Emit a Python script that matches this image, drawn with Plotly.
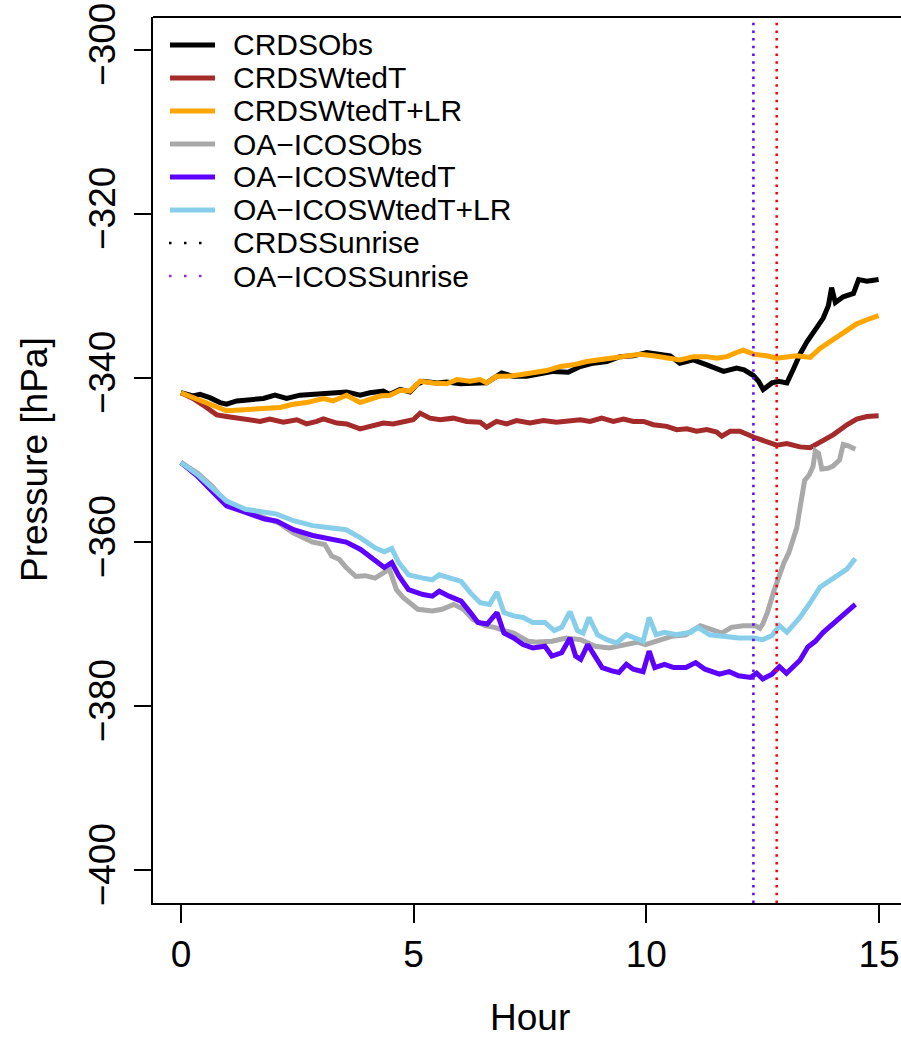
import plotly.graph_objects as go

# ---- series: (hour, pressure hPa) ----
crds_obs = [
    (0, -341.8), (0.26, -342.2), (0.41, -342.0), (0.62, -342.4), (0.84, -343.0), (0.98, -343.2),
    (1.2, -342.8), (1.48, -342.7), (1.77, -342.5), (2.02, -342.1), (2.27, -342.5), (2.56, -342.1),
    (2.84, -342.0), (3.06, -341.8), (3.31, -341.7), (3.56, -341.7), (3.85, -342.1), (4.06, -341.8),
    (4.35, -341.6), (4.49, -342.0), (4.71, -341.4), (4.92, -341.7), (5.07, -340.8), (5.21, -340.4),
    (5.5, -340.6), (5.71, -340.5), (6.0, -340.7), (6.28, -340.6), (6.57, -340.6), (6.89, -339.4),
    (7.14, -339.8), (7.43, -339.8), (7.72, -339.5), (8.0, -339.2), (8.32, -339.3), (8.58, -338.6),
    (8.86, -338.2), (9.15, -338.0), (9.43, -337.4), (9.72, -337.3), (10.01, -336.9), (10.29, -337.2),
    (10.51, -337.3), (10.72, -338.2), (11.01, -337.8), (11.3, -338.4), (11.66, -339.2), (11.94, -338.8),
    (12.1, -339.0), (12.3, -339.7), (12.41, -340.4), (12.51, -341.4), (12.7, -340.6), (12.84, -340.4),
    (13.02, -340.6), (13.16, -338.9), (13.3, -337.1), (13.45, -335.6), (13.63, -334.1), (13.8, -332.7),
    (13.91, -331.2), (13.98, -329.0), (14.06, -330.8), (14.23, -330.1), (14.45, -329.7), (14.56, -328.0),
    (14.74, -328.2), (14.99, -328.0),
]

crds_wted_t = [
    (0, -341.8), (0.26, -342.5), (0.55, -343.6), (0.77, -344.5), (0.98, -344.7), (1.2, -344.9),
    (1.41, -345.1), (1.70, -345.3), (1.91, -345.0), (2.2, -345.4), (2.49, -345.1), (2.70, -345.6),
    (2.92, -345.3), (3.06, -345.0), (3.35, -345.5), (3.56, -345.6), (3.85, -346.2), (4.06, -345.9),
    (4.35, -345.5), (4.56, -345.6), (4.78, -345.3), (4.99, -345.1), (5.14, -344.3), (5.35, -344.9),
    (5.57, -345.1), (5.85, -344.9), (6.14, -345.3), (6.43, -345.4), (6.57, -346.0), (6.78, -345.3),
    (7.0, -345.6), (7.21, -345.2), (7.5, -345.5), (7.79, -345.2), (8.07, -345.4), (8.36, -345.3),
    (8.58, -345.1), (8.79, -345.3), (9.04, -344.9), (9.29, -345.3), (9.51, -345.0), (9.72, -345.3),
    (9.94, -345.3), (10.15, -345.7), (10.44, -345.9), (10.65, -346.3), (10.87, -346.2), (11.08, -346.5),
    (11.3, -346.3), (11.51, -346.6), (11.62, -347.1), (11.8, -346.5), (12.01, -346.5), (12.3, -347.2),
    (12.59, -347.8), (12.8, -348.2), (13.02, -348.0), (13.3, -348.4), (13.52, -348.5), (13.73, -347.8),
    (14.02, -346.9), (14.31, -345.7), (14.52, -345.0), (14.74, -344.7), (14.99, -344.6),
]

crds_wted_t_lr = [
    (0, -341.8), (0.26, -342.4), (0.55, -343.0), (0.77, -343.6), (0.98, -344.0), (1.27, -343.9),
    (1.55, -343.8), (1.84, -343.6), (2.13, -343.6), (2.41, -343.2), (2.70, -343.0), (3.06, -342.5),
    (3.27, -342.8), (3.56, -342.1), (3.85, -343.0), (4.06, -342.6), (4.28, -342.2), (4.49, -342.1),
    (4.71, -341.5), (4.92, -341.6), (5.14, -340.4), (5.42, -340.6), (5.71, -340.7), (5.93, -340.2),
    (6.21, -340.4), (6.43, -340.2), (6.57, -340.6), (6.78, -339.8), (7.0, -339.8), (7.29, -339.6),
    (7.57, -339.4), (7.86, -339.1), (8.15, -338.6), (8.43, -338.4), (8.72, -338.0), (9.0, -337.8),
    (9.29, -337.6), (9.58, -337.3), (9.86, -337.1), (10.15, -337.3), (10.44, -337.6), (10.72, -337.8),
    (11.01, -337.4), (11.3, -337.4), (11.51, -337.6), (11.73, -337.4), (11.94, -336.9), (12.08, -336.6),
    (12.3, -337.1), (12.59, -337.3), (12.8, -337.6), (13.02, -337.5), (13.23, -337.3), (13.52, -337.5),
    (13.73, -336.4), (14.02, -335.3), (14.31, -334.1), (14.52, -333.4), (14.74, -332.9), (14.99, -332.4),
]

oa_icos_obs = [
    (0, -350.3), (0.36, -351.6), (0.67, -353.2), (0.98, -355.2), (1.39, -356.2), (1.80, -357.0),
    (2.11, -357.7), (2.42, -358.9), (2.62, -359.5), (2.83, -360.0), (3.09, -360.3), (3.24, -361.7),
    (3.40, -362.1), (3.55, -363.1), (3.76, -364.2), (3.96, -364.1), (4.17, -364.4), (4.37, -363.7),
    (4.48, -363.3), (4.63, -365.8), (4.78, -366.8), (5.09, -368.2), (5.40, -368.4), (5.61, -368.2),
    (5.86, -367.6), (6.07, -368.2), (6.27, -369.4), (6.53, -370.2), (6.74, -370.4), (6.94, -370.8),
    (7.15, -371.1), (7.46, -372.1), (7.66, -372.2), (7.97, -372.1), (8.28, -371.7), (8.59, -371.9),
    (8.90, -372.7), (9.20, -372.9), (9.51, -372.6), (9.82, -372.2), (9.98, -372.5), (10.23, -372.1),
    (10.54, -371.5), (10.85, -371.3), (11.16, -370.2), (11.42, -370.7), (11.62, -371.1), (11.83, -370.4),
    (12.08, -370.2), (12.34, -370.2), (12.44, -370.5), (12.5, -370.0), (12.6, -368.6), (12.75, -365.8),
    (12.95, -362.6), (13.06, -361.3), (13.23, -358.3), (13.30, -355.9), (13.40, -352.5), (13.50, -351.8),
    (13.58, -350.8), (13.63, -348.9), (13.70, -349.2), (13.77, -351.1), (13.9, -351.0), (14.01, -350.75),
    (14.15, -350.0), (14.23, -348.1), (14.35, -348.3), (14.49, -348.7),
]

oa_icos_wted_t = [
    (0, -350.3), (0.36, -352.0), (0.67, -353.8), (0.98, -355.6), (1.39, -356.4), (1.80, -357.2),
    (2.06, -357.45), (2.42, -358.5), (2.83, -359.2), (3.24, -359.6), (3.55, -360.0), (3.86, -360.9),
    (4.17, -362.3), (4.37, -363.1), (4.53, -362.5), (4.68, -364.1), (4.89, -365.8), (5.2, -366.4),
    (5.40, -366.6), (5.55, -366.0), (5.76, -366.6), (6.02, -367.2), (6.22, -368.6), (6.38, -369.8),
    (6.58, -370.0), (6.79, -368.6), (6.94, -371.1), (7.15, -371.7), (7.35, -372.5), (7.56, -372.9),
    (7.82, -372.7), (7.97, -373.9), (8.18, -373.5), (8.36, -371.7), (8.48, -373.9), (8.59, -374.3),
    (8.74, -372.5), (8.9, -373.9), (9.05, -375.3), (9.26, -375.7), (9.41, -375.9), (9.57, -374.9),
    (9.72, -375.5), (9.93, -375.8), (10.06, -373.3), (10.18, -375.3), (10.39, -374.9), (10.59, -375.3),
    (10.85, -375.3), (11.06, -374.7), (11.26, -375.5), (11.57, -376.1), (11.78, -375.8), (11.98, -376.3),
    (12.24, -376.5), (12.37, -376.0), (12.5, -376.7), (12.7, -376.1), (12.86, -375.2), (13.01, -376.0),
    (13.16, -375.1), (13.3, -374.4), (13.47, -372.8), (13.63, -372.1), (13.8, -371.0), (14.04, -369.8),
    (14.24, -368.8), (14.49, -367.6),
]

oa_icos_wted_t_lr = [
    (0, -350.3), (0.36, -351.8), (0.67, -353.4), (0.98, -355.0), (1.39, -356.0), (1.80, -356.4),
    (2.06, -356.6), (2.42, -357.4), (2.83, -358.0), (3.24, -358.3), (3.55, -358.5), (3.86, -359.5),
    (4.17, -360.7), (4.37, -361.2), (4.53, -360.8), (4.68, -362.5), (4.89, -364.0), (5.2, -364.4),
    (5.40, -364.6), (5.55, -364.0), (5.76, -364.4), (6.02, -364.8), (6.22, -366.2), (6.43, -367.4),
    (6.63, -367.6), (6.79, -366.1), (6.94, -368.6), (7.15, -369.0), (7.35, -369.2), (7.56, -369.8),
    (7.82, -369.8), (8.02, -370.8), (8.18, -370.4), (8.36, -368.5), (8.52, -370.8), (8.64, -371.1),
    (8.77, -369.2), (8.95, -371.3), (9.15, -371.9), (9.36, -372.3), (9.57, -371.3), (9.77, -371.7),
    (9.93, -372.1), (10.06, -369.2), (10.21, -371.3), (10.39, -371.0), (10.64, -371.3), (10.95, -371.0),
    (11.11, -370.4), (11.36, -371.3), (11.67, -371.5), (11.98, -371.7), (12.29, -371.7), (12.5, -371.9),
    (12.7, -371.4), (12.86, -370.2), (13.02, -371.0), (13.3, -369.2), (13.52, -367.4), (13.73, -365.5),
    (14.02, -364.4), (14.31, -363.3), (14.49, -362.0),
]

# sunrise times (hour)
crds_sunrise = 12.8
oa_icos_sunrise = 12.3

series_names = ["CRDSObs", "CRDSWtedT", "CRDSWtedT+LR",
                "OA\u2212ICOSObs", "OA\u2212ICOSWtedT", "OA\u2212ICOSWtedT+LR"]
series_data = [crds_obs, crds_wted_t, crds_wted_t_lr,
               oa_icos_obs, oa_icos_wted_t, oa_icos_wted_t_lr]
series_colors = ["#000000", "#A52A2A", "#FFA500", "#A9A9A9", "#5E00FF", "#87CEEB"]
sunrise_names = ["CRDSSunrise", "OA\u2212ICOSSunrise"]
sunrise_legend_colors = ["#000000", "#A020F0"]

x_ticks = [0, 5, 10, 15]
y_ticks = [-400, -380, -360, -340, -320, -300]

FONT = "Liberation Sans, Arial, Helvetica, sans-serif"
W, H = 901, 1038
L, T, B = 153, 17, 135
PW = W - L          # plot-area width in px
PH = H - T - B      # plot-area height in px


def px_x(p):
    return (p - L) / PW


def px_y(p):
    return (H - B - p) / PH


fig = go.Figure()
for name, data, color in zip(series_names, series_data, series_colors):
    fig.add_trace(go.Scatter(
        x=[d[0] for d in data], y=[d[1] for d in data], mode="lines", name=name,
        line=dict(color=color, width=5), showlegend=False, hoverinfo="skip"))

shapes = []
# sunrise markers
for xv, col in [(oa_icos_sunrise, "#6200FF"), (crds_sunrise, "#FF0000")]:
    shapes.append(dict(type="line", xref="x", yref="paper", x0=xv, x1=xv, y0=0, y1=1,
                       line=dict(color=col, width=2.5, dash="2.5px,5.2px")))

# frame top (left and bottom come from the axis lines)
shapes.append(dict(type="line", xref="paper", yref="paper", x0=0, x1=1.01, y0=1, y1=1,
                   line=dict(color="black", width=2)))

# legend (no box)
annotations = []
row_y = [45, 78, 111, 144, 177, 210, 243, 276]
leg_names = series_names + sunrise_names
for i, name in enumerate(leg_names):
    yy = px_y(row_y[i])
    if i < 6:
        shapes.append(dict(type="line", xref="paper", yref="paper",
                           x0=px_x(170), x1=px_x(215), y0=yy, y1=yy,
                           line=dict(color=series_colors[i], width=5)))
    else:
        shapes.append(dict(type="line", xref="paper", yref="paper",
                           x0=px_x(169), x1=px_x(203), y0=yy, y1=yy,
                           line=dict(color=sunrise_legend_colors[i - 6], width=2.5,
                                     dash="2.5px,12.5px")))
    annotations.append(dict(text=name, xref="paper", yref="paper", x=px_x(231), y=yy,
                            xanchor="left", yanchor="middle", showarrow=False,
                            font=dict(family=FONT, size=30, color="black")))

# axis titles
annotations.append(dict(text="Hour", xref="paper", yref="paper", x=px_x(530), y=px_y(1017),
                        xanchor="center", yanchor="middle", showarrow=False,
                        font=dict(family=FONT, size=37, color="black")))
annotations.append(dict(text="Pressure [hPa]", xref="paper", yref="paper", x=px_x(34), y=px_y(460),
                        xanchor="center", yanchor="middle", showarrow=False, textangle=-90,
                        font=dict(family=FONT, size=37, color="black")))

fig.update_layout(
    width=W, height=H,
    margin=dict(l=L, r=0, t=T, b=B, pad=0),
    paper_bgcolor="white", plot_bgcolor="white",
    font=dict(family=FONT, size=37, color="black"),
    shapes=shapes, annotations=annotations,
    xaxis=dict(range=[-0.6, 15.471], tickvals=x_ticks, ticks="outside", ticklen=18,
               tickwidth=1.5, tickcolor="black", showgrid=False, zeroline=False,
               showline=True, linecolor="black", linewidth=2,
               tickfont=dict(family=FONT, size=37, color="black")),
    yaxis=dict(range=[-404, -296], tickvals=y_ticks, ticks="outside", ticklen=17,
               tickwidth=1.5, tickcolor="black", showgrid=False, zeroline=False,
               showline=True, linecolor="black", linewidth=2, tickangle=-90,
               ticklabelstandoff=4,
               tickfont=dict(family=FONT, size=37, color="black")),
)

fig.write_html("out.html")
